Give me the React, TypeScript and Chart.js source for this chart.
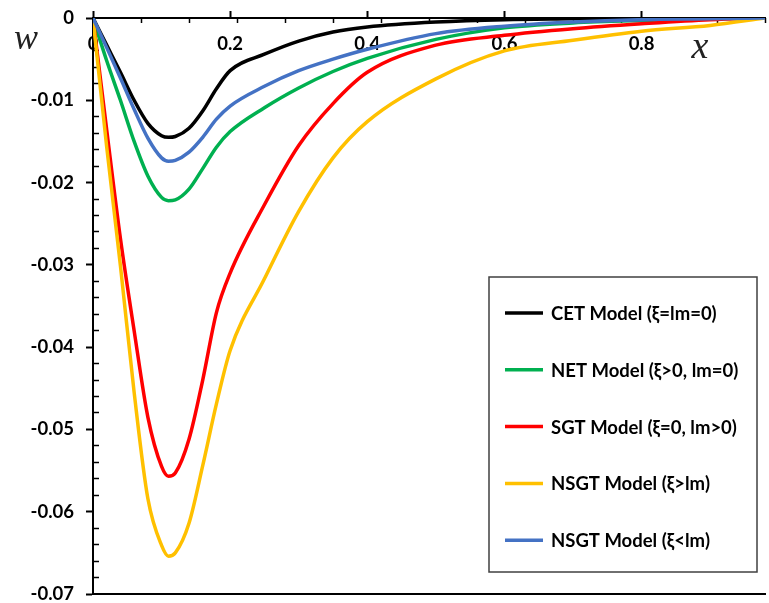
import React, { useEffect, useRef } from "react";
import { Chart, registerables } from "chart.js";

Chart.register(...registerables);

// Beam deflection w along the normalised position x
const xValues = [0, 0.02, 0.04, 0.06, 0.08, 0.1, 0.11, 0.12, 0.14, 0.16, 0.18, 0.2, 0.25, 0.3, 0.35, 0.4, 0.5, 0.6, 0.7, 0.8, 0.9, 0.98];

const cetValues = [0, -0.0033, -0.0066, -0.0100, -0.0128, -0.0143, -0.0145, -0.0144, -0.0134, -0.0113, -0.0086, -0.0064, -0.0044, -0.0028, -0.0017, -0.0011, -0.0005, -0.0002, -0.0001, 0, 0, 0];
const netValues = [0, -0.0052, -0.0100, -0.0150, -0.0192, -0.0218, -0.0222, -0.0221, -0.0208, -0.0183, -0.0157, -0.0138, -0.0109, -0.0085, -0.0065, -0.0049, -0.0026, -0.0012, -0.0006, -0.0003, -0.0001, 0];
const sgtValues = [0, -0.0136, -0.0268, -0.0380, -0.0485, -0.0545, -0.0557, -0.0553, -0.0512, -0.0440, -0.0358, -0.0310, -0.0227, -0.0155, -0.0104, -0.0066, -0.0033, -0.0021, -0.0013, -0.0007, -0.0002, 0];
const nsgtGreaterValues = [0, -0.0157, -0.0301, -0.0455, -0.0584, -0.0641, -0.0654, -0.0650, -0.0614, -0.0544, -0.0469, -0.0404, -0.0317, -0.0235, -0.0170, -0.0126, -0.0074, -0.0040, -0.0027, -0.0016, -0.0009, 0];
const nsgtLessValues = [0, -0.0036, -0.0073, -0.0111, -0.0146, -0.0170, -0.0174, -0.0173, -0.0163, -0.0145, -0.0123, -0.0107, -0.0083, -0.0064, -0.0050, -0.0038, -0.0019, -0.0010, -0.0005, -0.0002, -0.0001, 0];

const seriesLabels = [
  "CET Model (ξ=lm=0)",
  "NET Model (ξ>0, lm=0)",
  "SGT Model (ξ=0, lm>0)",
  "NSGT Model (ξ>lm)",
  "NSGT Model (ξ<lm)",
];
const seriesColors = ["#000000", "#00B050", "#FF0000", "#FFC000", "#4472C4"];
const seriesValues = [cetValues, netValues, sgtValues, nsgtGreaterValues, nsgtLessValues];
// later series are painted over earlier ones
const seriesOrder = [4, 3, 2, 1, 0];

// Axis ticks
const X_MIN = 0;
const X_MAX = 0.98;
const xLabelTicks = [0, 0.2, 0.4, 0.6, 0.8];
const X_MINOR_STEP = 0.07;
const Y_MIN = -0.07;
const Y_MAX = 0;
const yLabelTicks = [0, -0.01, -0.02, -0.03, -0.04, -0.05, -0.06, -0.07];
const Y_MINOR_STEP = 0.002;

const xMinorTicks: number[] = [];
for (let i = 0; i <= Math.round((X_MAX - X_MIN) / X_MINOR_STEP); i++) {
  xMinorTicks.push(+(X_MIN + i * X_MINOR_STEP).toFixed(4));
}
const yMinorTicks: number[] = [];
for (let i = 1; i < Math.round((Y_MAX - Y_MIN) / Y_MINOR_STEP); i++) {
  if (i % 5 !== 0) yMinorTicks.push(+(Y_MAX - i * Y_MINOR_STEP).toFixed(4));
}

const near = (a: number, b: number) => Math.abs(a - b) < 1e-6;
const isXLabel = (v: number) => xLabelTicks.some((t) => near(t, v));

const FONT_FAMILY = "Lato, 'Noto Sans', sans-serif";
const tickFont = { family: FONT_FAMILY, size: 18.5, weight: "bold" as const };

const zeroPadding = (s: any) => {
  s.paddingTop = 0;
  s.paddingBottom = 0;
  s.paddingLeft = 0;
  s.paddingRight = 0;
};

// Axis symbols and the boxed legend
const decorations = {
  id: "decorations",
  afterDraw(chart: any) {
    const { ctx, chartArea } = chart;
    ctx.save();

    ctx.fillStyle = "#222";
    ctx.textAlign = "center";
    ctx.textBaseline = "middle";
    ctx.font = "italic 36px 'Liberation Serif', serif";
    ctx.fillText("w", 26, 40);
    ctx.font = "italic 38px 'Liberation Serif', serif";
    ctx.fillText("x", 700, 48);

    const boxW = 268;
    const boxH = 295;
    const left = chartArea.right - 276;
    const top = chartArea.top + 259;
    ctx.fillStyle = "#fff";
    ctx.fillRect(left, top, boxW, boxH);
    ctx.strokeStyle = "#404040";
    ctx.lineWidth = 1.5;
    ctx.strokeRect(left, top, boxW, boxH);

    ctx.font = `bold 18.5px ${FONT_FAMILY}`;
    ctx.textAlign = "left";
    ctx.textBaseline = "middle";
    chart.data.datasets.forEach((ds: any, i: number) => {
      const y = top + 36 + i * 56.8;
      ctx.strokeStyle = ds.borderColor;
      ctx.lineWidth = 3.5;
      ctx.beginPath();
      ctx.moveTo(left + 16, y);
      ctx.lineTo(left + 54, y);
      ctx.stroke();
      ctx.fillStyle = "#000";
      ctx.fillText(ds.label, left + 62, y + 1);
    });
    ctx.restore();
  },
};

export default function App() {
  const canvasRef = useRef<HTMLCanvasElement | null>(null);

  useEffect(() => {
    if (!canvasRef.current) return;
    const chart = new Chart(canvasRef.current, {
      type: "line",
      data: {
        datasets: seriesValues.map((vals, i) => ({
          label: seriesLabels[i],
          data: xValues.map((x, j) => ({ x, y: vals[j] })),
          borderColor: seriesColors[i],
          backgroundColor: seriesColors[i],
          borderWidth: 3.5,
          pointRadius: 0,
          fill: false,
          cubicInterpolationMode: "monotone" as const,
          order: seriesOrder[i],
        })),
      },
      options: {
        animation: false,
        responsive: true,
        maintainAspectRatio: false,
        devicePixelRatio: 1,
        layout: { padding: { top: 0, left: 0, right: 4, bottom: 9 } },
        plugins: {
          legend: { display: false },
          tooltip: { enabled: false },
          title: { display: false },
        },
        scales: {
          x: {
            type: "linear",
            position: "top",
            min: X_MIN,
            max: X_MAX,
            afterBuildTicks: (s: any) => {
              s.ticks = xLabelTicks.map((v) => ({ value: v }));
            },
            afterFit: (s: any) => {
              s.height = 18;
              zeroPadding(s);
            },
            ticks: { display: false },
            grid: { drawOnChartArea: false, drawTicks: true, tickLength: 7, tickWidth: 2, tickColor: "#000" },
            border: { display: true, color: "#000", width: 2 },
          },
          xMinor: {
            type: "linear",
            axis: "x",
            position: { y: 0 },
            min: X_MIN,
            max: X_MAX,
            afterBuildTicks: (s: any) => {
              const vals = [...xMinorTicks];
              xLabelTicks.forEach((v) => {
                if (!vals.some((m) => near(m, v))) vals.push(v);
              });
              vals.sort((a, b) => a - b);
              s.ticks = vals.map((v) => ({ value: v }));
            },
            afterFit: zeroPadding,
            ticks: {
              autoSkip: false,
              maxRotation: 0,
              minRotation: 0,
              padding: 10,
              color: "#000",
              font: tickFont,
              callback: (v: any) => {
                const n = Number(v);
                if (!isXLabel(n)) return "";
                return n === 0 ? "0" : String(+n.toFixed(1));
              },
            },
            grid: {
              drawOnChartArea: false,
              drawTicks: true,
              tickLength: 5,
              tickColor: "#000",
              tickWidth: (c: any) => (xMinorTicks.some((m) => near(m, c.tick?.value)) && c.tick?.value !== 0 ? 1.5 : 0),
            },
            border: { display: false },
          },
          xFrame: {
            type: "linear",
            axis: "x",
            position: "bottom",
            min: X_MIN,
            max: X_MAX,
            afterFit: (s: any) => {
              s.height = 0;
              zeroPadding(s);
            },
            ticks: { display: false },
            grid: { drawOnChartArea: false, drawTicks: false },
            border: { display: true, color: "#000", width: 2 },
          },
          y: {
            type: "linear",
            position: "left",
            min: Y_MIN,
            max: Y_MAX,
            afterBuildTicks: (s: any) => {
              s.ticks = yLabelTicks.map((v) => ({ value: v }));
            },
            afterFit: (s: any) => {
              s.width = 93;
              zeroPadding(s);
            },
            ticks: {
              padding: 12,
              color: "#000",
              font: tickFont,
              callback: (v: any) => (Number(v) === 0 ? "0" : Number(v).toFixed(2)),
            },
            grid: { drawOnChartArea: false, drawTicks: true, tickLength: 7, tickWidth: 2, tickColor: "#000" },
            border: { display: true, color: "#000", width: 2 },
          },
          yMinor: {
            type: "linear",
            axis: "y",
            position: { x: 0 },
            min: Y_MIN,
            max: Y_MAX,
            afterBuildTicks: (s: any) => {
              s.ticks = yMinorTicks.map((v) => ({ value: v }));
            },
            afterFit: zeroPadding,
            ticks: { display: false },
            grid: { drawOnChartArea: false, drawTicks: true, tickLength: -6, tickWidth: 1.5, tickColor: "#000" },
            border: { display: false },
          },
        },
      } as any,
      plugins: [decorations],
    });
    return () => chart.destroy();
  }, []);

  return (
    <div style={{ position: "fixed", left: 0, top: 0, width: 769, height: 603, background: "#fff" }}>
      <canvas ref={canvasRef} />
    </div>
  );
}
